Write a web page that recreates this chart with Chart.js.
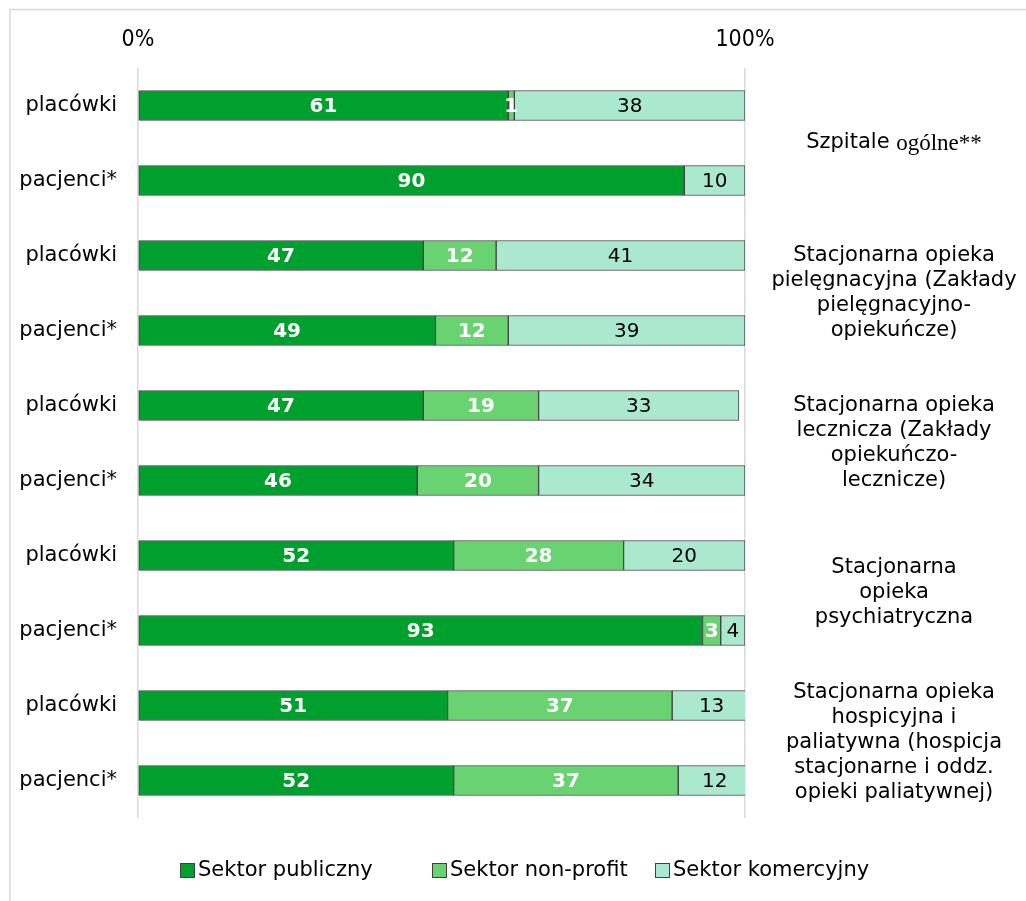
<!DOCTYPE html>
<html>
<head>
<meta charset="utf-8">
<script src="https://cdn.jsdelivr.net/npm/chart.js@4.4.1/dist/chart.umd.min.js"></script>
<style>
  html, body { margin: 0; padding: 0; background: #fff; }
  #wrap { width: 1026px; height: 901px; position: relative; }
</style>
</head>
<body>
<div id="wrap"><canvas id="myChart" width="1026" height="901"></canvas></div>
<script>
// rows: two per group (facilities / patients)
var categories = ['placówki', 'pacjenci*', 'placówki', 'pacjenci*', 'placówki', 'pacjenci*',
                  'placówki', 'pacjenci*', 'placówki', 'pacjenci*'];
var publiczny = [61, 90, 47, 49, 47, 46, 52, 93, 51, 52];
var nonProfit = [1, 0, 12, 12, 19, 20, 28, 3, 37, 37];
var komercyjny = [38, 10, 41, 39, 33, 34, 20, 4, 13, 12];
var seriesNames = ['Sektor publiczny', 'Sektor non-profit', 'Sektor komercyjny'];
var tickLabels = ['0%', '100%'];

// group captions on the right, one per pair of rows
// (a line given as [a, b] has its second half set in a serif face)
var groupLabels = [
    [['Szpitale ', 'ogólne**']],
    ['Stacjonarna opieka', 'pielęgnacyjna (Zakłady', 'pielęgnacyjno-', 'opiekuńcze)'],
    ['Stacjonarna opieka', 'lecznicza (Zakłady', 'opiekuńczo-', 'lecznicze)'],
    ['Stacjonarna', 'opieka', 'psychiatryczna'],
    ['Stacjonarna opieka', 'hospicyjna i', 'paliatywna (hospicja', 'stacjonarne i oddz.', 'opieki paliatywnej)']
];

var colors = ['#00A02E', '#69D372', '#ABE9CF'];
var SANS = '"DejaVu Sans", Verdana, sans-serif';
var NARROW = '"DejaVu Sans Condensed", "DejaVu Sans", sans-serif';
var SERIF = '"Liberation Serif", "DejaVu Serif", serif';

var framePlugin = {
    id: 'frame',
    beforeDraw: function(chart) {
        var ctx = chart.ctx;
        ctx.save();
        ctx.strokeStyle = '#d9d9d9';
        ctx.lineWidth = 1.5;
        ctx.beginPath();
        ctx.moveTo(10, 901);
        ctx.lineTo(10, 9.5);
        ctx.lineTo(1026, 9.5);
        ctx.stroke();
        ctx.restore();
    }
};

var valueLabels = {
    id: 'valueLabels',
    afterDatasetsDraw: function(chart) {
        var ctx = chart.ctx;
        ctx.save();
        ctx.textAlign = 'center';
        ctx.textBaseline = 'middle';
        chart.data.datasets.forEach(function(ds, di) {
            var meta = chart.getDatasetMeta(di);
            meta.data.forEach(function(bar, i) {
                var v = ds.data[i];
                if (!v) return;
                var x = (bar.x + bar.base) / 2;
                if (di < 2) {
                    ctx.fillStyle = '#fff';
                    ctx.font = 'bold 20px ' + SANS;
                } else {
                    ctx.fillStyle = '#000';
                    ctx.font = '20px ' + SANS;
                }
                ctx.fillText(String(v), x, bar.y + 1);
            });
        });
        ctx.restore();
    }
};

var sideLabels = {
    id: 'sideLabels',
    afterDraw: function(chart) {
        var ctx = chart.ctx;
        var y = chart.scales.y;
        var cx = 894, lh = 25;
        ctx.save();
        ctx.fillStyle = '#000';
        ctx.textBaseline = 'middle';
        groupLabels.forEach(function(lines, g) {
            var mid = (y.getPixelForValue(g * 2) + y.getPixelForValue(g * 2 + 1)) / 2;
            var top = mid - (lines.length - 1) * lh / 2;
            lines.forEach(function(line, k) {
                var ly = top + k * lh;
                if (Array.isArray(line)) {
                    ctx.font = '21px ' + SANS;
                    var w1 = ctx.measureText(line[0]).width;
                    ctx.font = '23px ' + SERIF;
                    var w2 = ctx.measureText(line[1]).width;
                    var x0 = cx - (w1 + w2) / 2;
                    ctx.textAlign = 'left';
                    ctx.font = '21px ' + SANS;
                    ctx.fillText(line[0], x0, ly);
                    ctx.font = '23px ' + SERIF;
                    ctx.fillText(line[1], x0 + w1, ly + 1);
                } else {
                    ctx.textAlign = 'center';
                    ctx.font = '21px ' + SANS;
                    ctx.fillText(line, cx, ly);
                }
            });
        });
        ctx.restore();
    }
};

var legendPlugin = {
    id: 'bottomLegend',
    afterDraw: function(chart) {
        var ctx = chart.ctx;
        var xs = [180, 432, 655];
        var ly = 870;
        ctx.save();
        ctx.font = '21px ' + SANS;
        ctx.textBaseline = 'middle';
        ctx.textAlign = 'left';
        seriesNames.forEach(function(name, i) {
            ctx.fillStyle = colors[i];
            ctx.fillRect(xs[i] + 0.5, ly - 6.5, 14, 14);
            ctx.strokeStyle = '#404040';
            ctx.lineWidth = 1;
            ctx.strokeRect(xs[i] + 0.5, ly - 6.5, 14, 14);
            ctx.fillStyle = '#000';
            ctx.fillText(name, xs[i] + 18, ly + 1);
        });
        ctx.restore();
    }
};

var datasets = [publiczny, nonProfit, komercyjny].map(function(vals, i) {
    return {
        label: seriesNames[i],
        data: vals,
        backgroundColor: colors[i],
        borderColor: '#404040',
        borderWidth: 1,
        borderSkipped: false,
        barThickness: 30
    };
});

var ctx = document.getElementById('myChart').getContext('2d');
var chart = new Chart(ctx, {
    type: 'bar',
    data: { labels: categories, datasets: datasets },
    plugins: [framePlugin, valueLabels, sideLabels, legendPlugin],
    options: {
        responsive: false,
        animation: false,
        indexAxis: 'y',
        layout: { padding: { left: 0, right: 281, top: 0, bottom: 83 } },
        plugins: {
            legend: { display: false },
            tooltip: { enabled: false }
        },
        scales: {
            x: {
                position: 'top',
                stacked: true,
                min: 0,
                max: 100,
                afterFit: function(s) { s.height = 68; },
                afterBuildTicks: function(s) {
                    s.ticks = [{ value: 0 }, { value: 100 }];
                },
                ticks: {
                    padding: 14,
                    color: '#000',
                    font: { family: NARROW, size: 23 },
                    callback: function(v) { return v === 0 ? tickLabels[0] : tickLabels[1]; }
                },
                grid: { color: '#d9d9d9', lineWidth: 1.5, drawTicks: false },
                border: { display: false }
            },
            y: {
                stacked: true,
                afterFit: function(s) { s.width = 138; },
                ticks: {
                    padding: 13,
                    color: '#000',
                    font: { family: SANS, size: 21 }
                },
                grid: { display: false },
                border: { display: false }
            }
        }
    }
});
</script>
</body>
</html>
